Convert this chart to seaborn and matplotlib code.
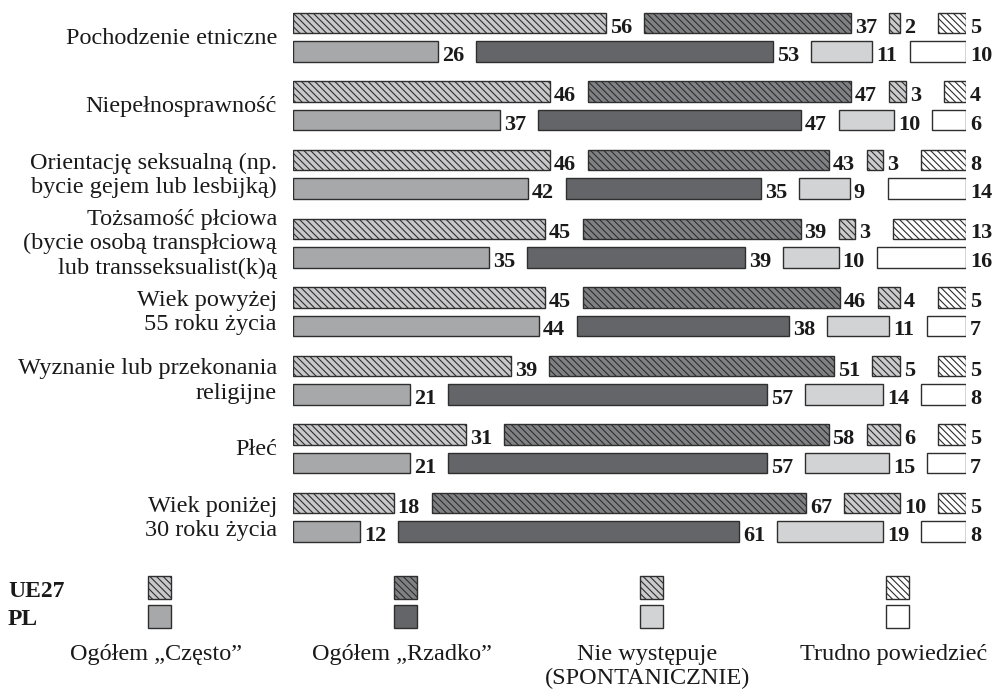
import numpy as np
import pandas as pd
import matplotlib
matplotlib.use("Agg")
import matplotlib.pyplot as plt
from matplotlib.patches import Rectangle
import seaborn as sns

# ---------------- data ----------------
categories = [
    "Pochodzenie etniczne",
    "Niepełnosprawność",
    "Orientację seksualną (np.\nbycie gejem lub lesbijką)",
    "Tożsamość płciowa\n(bycie osobą transpłciową\nlub transseksualist(k)ą",
    "Wiek powyżej\n55 roku życia",
    "Wyznanie lub przekonania\nreligijne",
    "Płeć",
    "Wiek poniżej\n30 roku życia",
]
answers = ["Ogółem „Często”", "Ogółem „Rzadko”", "Nie występuje\n(SPONTANICZNIE)", "Trudno powiedzieć"]
series_names = ["UE27", "PL"]

ue27_czesto = [56, 46, 46, 45, 45, 39, 31, 18]
ue27_rzadko = [37, 47, 43, 39, 46, 51, 58, 67]
ue27_nie = [2, 3, 3, 3, 4, 5, 6, 10]
ue27_trudno = [5, 4, 8, 13, 5, 5, 5, 5]

pl_czesto = [26, 37, 42, 35, 44, 21, 21, 12]
pl_rzadko = [53, 47, 35, 39, 38, 57, 57, 61]
pl_nie = [11, 10, 9, 10, 11, 14, 15, 19]
pl_trudno = [10, 6, 14, 16, 7, 8, 7, 8]

values = {
    "UE27": [ue27_czesto, ue27_rzadko, ue27_nie, ue27_trudno],
    "PL": [pl_czesto, pl_rzadko, pl_nie, pl_trudno],
}

rows = []
for s in series_names:
    for j, a in enumerate(answers):
        for i, c in enumerate(categories):
            rows.append(dict(series=s, answer=a, ans_idx=j, category=c, cat_idx=i,
                             value=values[s][j][i]))
df = pd.DataFrame(rows)

# ---------------- style ----------------
sns.set_theme(style="white")
plt.rcParams["font.family"] = ["Liberation Serif", "DejaVu Serif"]
plt.rcParams["hatch.linewidth"] = 0.8

pl_colors = ["#a7a8aa", "#646568", "#d2d3d5", "#ffffff"]
ue_colors = ["#c8c8ca", "#808184", "#cbcbcd", "#ffffff"]
edge = "#2e2e2e"
HATCH = "\\" * 5

W, H = 992, 694
fig = plt.figure(figsize=(W / 100, H / 100), dpi=100)
fig.patch.set_facecolor("white")

# main axes mapped to pixel region
px_left, px_right = 293, 966
px_top, px_bottom = 0, 560
scale = 5.59            # px per percent
GAP = 38 / scale        # gap left for value labels (in percent units)
pitch = 68.6            # px per category
mid0 = 37.3             # px of first category centre

ax = fig.add_axes([px_left / W, 1 - px_bottom / H, (px_right - px_left) / W, (px_bottom - px_top) / H])
ax.set_xlim(0, 100 + 3 * GAP)
ax.set_ylim((px_bottom - mid0) / pitch, (px_top - mid0) / pitch)
ax.axis("off")

offset = {"UE27": -14.25 / pitch, "PL": 14.25 / pitch}
bar_h = 20.5 / pitch
lab_dx = 4 / scale
lab_dy = 9.5 / pitch

for s in series_names:
    for i in range(len(categories)):
        sub = df[(df.series == s) & (df.cat_idx == i)].sort_values("ans_idx")
        left = 0.0
        y = i + offset[s]
        for _, r in sub.iterrows():
            j = r.ans_idx
            v = r.value
            if s == "UE27":
                ax.barh(y, v, left=left, height=bar_h, color=ue_colors[j],
                        edgecolor=edge, linewidth=1.0, hatch=HATCH)
            else:
                ax.barh(y, v, left=left, height=bar_h, color=pl_colors[j],
                        edgecolor=edge, linewidth=1.0)
            ax.text(left + v + lab_dx, y + lab_dy, f"{v}", ha="left", va="baseline",
                    fontsize=16, fontweight="bold", color="#1a1a1a")
            left += v + GAP

# category labels (line by line)
cat_x = (277 - px_left) / scale
line_step = 24.2 / pitch
for i, c in enumerate(categories):
    lines = c.split("\n")
    n = len(lines)
    for k, ln in enumerate(lines):
        yb = i + 6.3 / pitch + (k - (n - 1) / 2) * line_step
        ax.text(cat_x, yb, ln, ha="right", va="baseline", fontsize=17.5,
                color="#1a1a1a", clip_on=False)

# ---------------- legend ----------------
lax = fig.add_axes([0, 0, 1, 1])
lax.set_xlim(0, W)
lax.set_ylim(H, 0)
lax.axis("off")
lax.patch.set_alpha(0)

leg_x = [148, 394, 640, 886]
sq = 23
for j, x0 in enumerate(leg_x):
    lax.add_patch(Rectangle((x0, 576), sq, sq, facecolor=ue_colors[j], edgecolor=edge,
                            linewidth=1.0, hatch=HATCH))
    lax.add_patch(Rectangle((x0, 605), sq, sq, facecolor=pl_colors[j], edgecolor=edge,
                            linewidth=1.0))
    cx = x0 + sq / 2 - 4
    for k, ln in enumerate(answers[j].split("\n")):
        lax.text(cx, 660 + k * 24, ln, ha="center", va="baseline", fontsize=17.5, color="#1a1a1a")

lax.text(8, 597, "UE27", ha="left", va="baseline", fontsize=17, fontweight="bold", color="#1a1a1a")
lax.text(8, 625, "PL", ha="left", va="baseline", fontsize=17, fontweight="bold", color="#1a1a1a")

fig.savefig("out.png", dpi=100, facecolor="white")
